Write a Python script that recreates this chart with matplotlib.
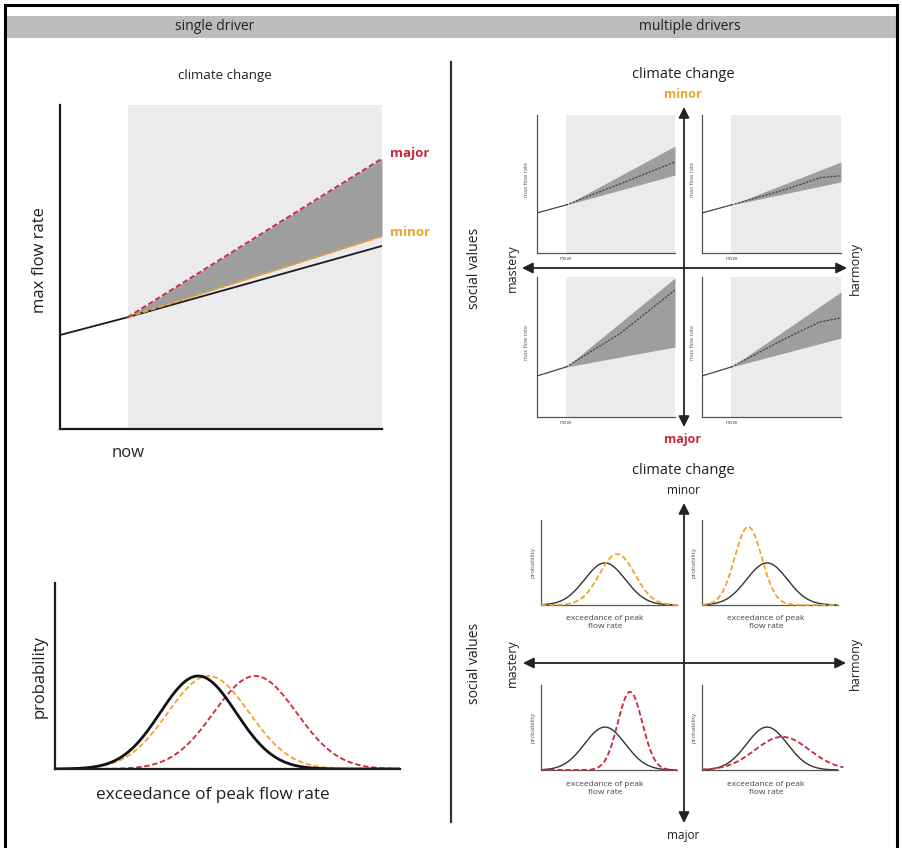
import numpy as np
import matplotlib
matplotlib.use("Agg")
import matplotlib.pyplot as plt

plt.rcParams['font.family'] = ['Open Sans', 'DejaVu Sans']

W, H = 902, 848

# ---------------- data ----------------
# single driver: max flow rate over time
years = [0.0, 2.1, 10.0]
now_year = 2.1
baseline = [2.9, 3.45, 5.65]
proj_years = [2.1, 10.0]
minor_proj = [3.45, 5.95]
major_proj = [3.45, 8.35]

# single driver: distributions (mean, sd, peak)
dist_base = (4.15, 1.1, 1.0)
dist_minor = (4.45, 1.18, 1.0)
dist_major = (5.8, 1.2, 1.0)

# multiple drivers: line charts (history + central projection + band)
hist_years = [0.0, 2.1]
centre_years = [2.1, 6.0, 8.5, 10.0]
quad_lines = {
    "TL": dict(hist=[2.9, 3.48], centre=[3.48, 5.0, 6.0, 6.6], upper=[3.48, 7.75], lower=[3.48, 5.65]),
    "TR": dict(hist=[2.9, 3.48], centre=[3.48, 4.6, 5.45, 5.6], upper=[3.48, 6.6], lower=[3.48, 5.15]),
    "BL": dict(hist=[2.93, 3.57], centre=[3.57, 5.95, 7.9, 9.07], upper=[3.57, 9.93], lower=[3.57, 5.0]),
    "BR": dict(hist=[2.93, 3.57], centre=[3.57, 5.6, 6.8, 7.07], upper=[3.57, 8.93], lower=[3.57, 5.64]),
}

# multiple drivers: distributions (mean, sd, peak) — baseline and scenario
quad_dists = {
    "TL": dict(base=(4.7, 1.5, 4.95), scen=(5.6, 1.3, 6.0), kind="minor"),
    "TR": dict(base=(4.78, 1.5, 4.95), scen=(3.4, 1.0, 9.2), kind="minor"),
    "BL": dict(base=(4.7, 1.5, 5.05), scen=(6.55, 0.9, 9.2), kind="major"),
    "BR": dict(base=(4.78, 1.5, 5.05), scen=(5.9, 2.0, 3.9), kind="major"),
}

RED = '#c9283c'
ORANGE = '#f0a326'
BAND = '#9e9e9e'
SHADE = '#ebebee'
TXT = '#231f20'

fig = plt.figure(figsize=(W / 100, H / 100), dpi=100)
fig.patch.set_facecolor('white')

bg = fig.add_axes([0, 0, 1, 1])
bg.set_xlim(0, W)
bg.set_ylim(H, 0)
bg.axis('off')


def px_axes(x0, y0, x1, y1):
    ax = fig.add_axes([x0 / W, 1 - y1 / H, (x1 - x0) / W, (y1 - y0) / H])
    ax.set_facecolor('none')
    for s in ('top', 'right'):
        ax.spines[s].set_visible(False)
    ax.set_xticks([])
    ax.set_yticks([])
    return ax


def gauss(x, p):
    m, s, h = p
    return h * np.exp(-0.5 * ((x - m) / s) ** 2)


# frame, header, divider
bg.plot([5, 5, 897, 897], [850, 5, 5, 850], color='black', lw=2.2, solid_joinstyle='miter')
bg.add_patch(plt.Rectangle((6, 16), 890, 22, color='#bcbcbc', lw=0))
bg.plot([451, 451], [62, 822], color='#333333', lw=1.6)
bg.text(215, 27, 'single driver', ha='center', va='center', fontsize=10, color=TXT)
bg.text(690, 27, 'multiple drivers', ha='center', va='center', fontsize=10, color=TXT)

# ---------------- single driver: line chart ----------------
bg.text(225, 75, 'climate change', ha='center', va='center', fontsize=9.5, color=TXT)
ax = px_axes(60, 105, 382, 429)
ax.set_xlim(0, 10)
ax.set_ylim(0, 10)
for s in ('left', 'bottom'):
    ax.spines[s].set_linewidth(1.6)
    ax.spines[s].set_color('#1a1a1a')
ax.axvspan(now_year, 10, color=SHADE, lw=0, zorder=0)
ax.fill_between(proj_years, minor_proj, major_proj, color=BAND, lw=0, zorder=1)
ax.plot(years, baseline, color='#1a1a1a', lw=1.3, zorder=3)
ax.plot(proj_years, minor_proj, color=ORANGE, lw=1.3, ls=(0, (3, 1.5)), zorder=4)
ax.plot(proj_years, major_proj, color=RED, lw=1.3, ls=(0, (3, 1.5)), zorder=4)
bg.text(390, 153, 'major', ha='left', va='center', fontsize=9.5, color=RED, fontweight='bold')
bg.text(390, 233, 'minor', ha='left', va='center', fontsize=9.5, color=ORANGE, fontweight='bold')
bg.text(40, 260, 'max flow rate', ha='center', va='center', rotation=90, fontsize=12, color=TXT)
bg.text(128, 453, 'now', ha='center', va='center', fontsize=12, color=TXT)

# ---------------- single driver: distributions ----------------
ax = px_axes(55, 583, 400, 769)
ax.set_xlim(0, 10)
ax.set_ylim(0, 2)
for s in ('left', 'bottom'):
    ax.spines[s].set_linewidth(1.6)
    ax.spines[s].set_color('#1a1a1a')
xg = np.linspace(0, 10, 400)
ax.plot(xg, gauss(xg, dist_major), color=RED, lw=1.3, ls=(0, (3, 1.5)))
ax.plot(xg, gauss(xg, dist_minor), color=ORANGE, lw=1.3, ls=(0, (3, 1.5)))
ax.plot(xg, gauss(xg, dist_base), color='#111111', lw=2.0)
bg.text(40, 677, 'probability', ha='center', va='center', rotation=90, fontsize=12, color=TXT)
bg.text(213, 795, 'exceedance of peak flow rate', ha='center', va='center', fontsize=12.3, color=TXT)


# ---------------- multiple drivers: helpers ----------------
def quad_labels(yc, ytop_cc, top_lbl, bot_lbl, top_kw, bot_kw, ytop, ybot):
    bg.text(683, ytop_cc, 'climate change', ha='center', va='center', fontsize=10.5, color=TXT)
    bg.text(683, ytop, top_lbl, ha='center', va='center', **top_kw)
    bg.text(683, ybot, bot_lbl, ha='center', va='center', **bot_kw)
    bg.text(475, yc, 'social values', ha='center', va='center', rotation=90, fontsize=10, color=TXT)
    bg.text(512, yc, 'mastery', ha='center', va='center', rotation=90, fontsize=9, color=TXT)
    bg.text(855, yc, 'harmony', ha='center', va='center', rotation=90, fontsize=9, color=TXT)


def arrows(y_top, y_bot, y_h, x_l, x_r):
    ap = dict(arrowstyle='<|-|>', color='#222222', lw=1.3, mutation_scale=16,
              shrinkA=0, shrinkB=0)
    bg.annotate('', xy=(684, y_top), xytext=(684, y_bot), arrowprops=ap)
    bg.annotate('', xy=(x_l, y_h), xytext=(x_r, y_h), arrowprops=ap)


# ---------------- multiple drivers: line charts ----------------
quad_labels(268, 75, 'minor', 'major',
            dict(fontsize=9, color=ORANGE, fontweight='bold'),
            dict(fontsize=9, color=RED, fontweight='bold'), 95, 440)
arrows(107, 427, 268, 522, 847)

line_boxes = {"TL": (537, 115, 675, 253), "TR": (702, 115, 841, 253),
              "BL": (537, 277, 675, 417), "BR": (702, 277, 841, 417)}
for key, (x0, y0, x1, y1) in line_boxes.items():
    d = quad_lines[key]
    ax = px_axes(x0, y0, x1, y1)
    ax.set_xlim(0, 10)
    ax.set_ylim(0, 10)
    for s in ('left', 'bottom'):
        ax.spines[s].set_linewidth(0.9)
        ax.spines[s].set_color('#555555')
    ax.axvspan(now_year, 10, color=SHADE, lw=0, zorder=0)
    ax.fill_between(proj_years, d['lower'], d['upper'], color=BAND, lw=0, zorder=1)
    ax.plot(hist_years, d['hist'], color='#444444', lw=0.9, zorder=3)
    ax.plot(centre_years, d['centre'], color='#3a3a3a', lw=0.8, ls=(0, (2, 1.2)), zorder=3)
    bg.text(x0 - 10, (y0 + y1) / 2 - 5, 'max flow rate', ha='center', va='center',
            rotation=90, fontsize=4, color='#555555')
    nx = x0 + (x1 - x0) * now_year / 10
    bg.text(nx, y1 + 6, 'now', ha='center', va='center', fontsize=4.5, color='#555555')

# ---------------- multiple drivers: distributions ----------------
quad_labels(663, 470, 'minor', 'major',
            dict(fontsize=8.5, color=TXT), dict(fontsize=8.5, color=TXT), 491, 836)
arrows(503, 823, 663, 523, 846)

dist_boxes = {"TL": (541, 520, 677, 605), "TR": (702, 520, 838, 605),
              "BL": (541, 685, 677, 770), "BR": (702, 685, 838, 770)}
for key, (x0, y0, x1, y1) in dist_boxes.items():
    d = quad_dists[key]
    ax = px_axes(x0, y0, x1, y1)
    ax.set_xlim(0, 10)
    ax.set_ylim(0, 10)
    for s in ('left', 'bottom'):
        ax.spines[s].set_linewidth(0.9)
        ax.spines[s].set_color('#555555')
    col = ORANGE if d['kind'] == 'minor' else RED
    xs = np.linspace(0, 10.4 if key == "BR" else 10, 300)
    xb = np.linspace(0, 10, 300)
    ax.plot(xs, gauss(xs, d['scen']), color=col, lw=1.3, ls=(0, (3, 1.5)), clip_on=False, zorder=3)
    ax.plot(xb, gauss(xb, d['base']), color='#333333', lw=1.0, zorder=2)
    bg.text(x0 - 8, (y0 + y1) / 2, 'probability', ha='center', va='center',
            rotation=90, fontsize=4.5, color='#555555')
    bg.text((x0 + x1) / 2 - 4, y1 + 18, 'exceedance of peak\nflow rate', ha='center', va='center',
            fontsize=6, color='#444444', linespacing=1.2)

fig.savefig('out.png', dpi=100)
